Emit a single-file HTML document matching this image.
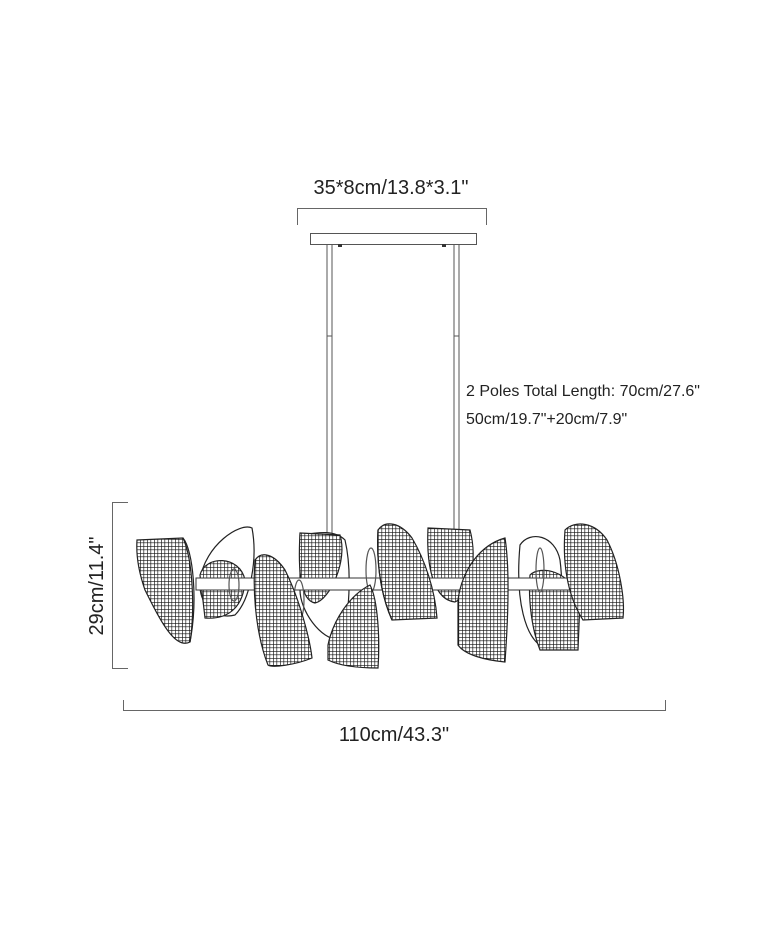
<!DOCTYPE html>
<html><head><meta charset="utf-8"><style>
html,body{margin:0;padding:0;background:#fff;}
svg{display:block;}
text{font-family:"Liberation Sans",sans-serif;fill:#222;}
</style></head><body>
<svg width="760" height="950" viewBox="0 0 760 950" xmlns="http://www.w3.org/2000/svg">
<defs>
<pattern id="g" width="3.5" height="3.5" patternUnits="userSpaceOnUse">
<rect width="3.5" height="3.5" fill="#fff"/>
<path d="M0 0H3.5M0 0V3.5" stroke="#111" stroke-width="1.3"/>
</pattern>
</defs>
<text x="391" y="194" font-size="20" text-anchor="middle">35*8cm/13.8*3.1"</text>
<path d="M297.5 225V208.5H486.5V225" fill="none" stroke="#666" stroke-width="1"/>
<rect x="310.5" y="233.5" width="166" height="11" fill="#fff" stroke="#555"/>
<rect x="338" y="244" width="4" height="3" fill="#333"/>
<rect x="442" y="244" width="4" height="3" fill="#333"/>
<g stroke="#555" stroke-width="1" fill="none">
<path d="M327 245V580M332 245V580M454 245V580M459 245V580"/>
<path d="M327 336H332M454 336H459"/>
</g>
<text x="466" y="396" font-size="16">2 Poles Total Length: 70cm/27.6"</text>
<text x="466" y="424" font-size="16">50cm/19.7"+20cm/7.9"</text>
<path d="M128 502.5H112.5V668.5H128" fill="none" stroke="#666"/>
<text x="0" y="0" font-size="20" text-anchor="middle" transform="translate(103,586) rotate(-90)">29cm/11.4"</text>
<path d="M123.5 700V710.5H665.5V700" fill="none" stroke="#666"/>
<text x="394" y="741" font-size="20" text-anchor="middle">110cm/43.3"</text>
<g stroke="#222" stroke-width="1.2">
<path d="M200 580 C205 545 240 522 252 528 C258 560 250 600 235 615 C215 620 198 605 200 580Z" fill="#fff"/>
<path d="M200 575 C205 555 240 555 245 580 C244 605 230 620 205 618Z" fill="url(#g)"/>
<path d="M300 535 C320 532 335 530 345 540 C352 570 350 620 340 640 C320 640 300 610 300 590Z" fill="#fff"/>
<path d="M300 533 L340 535 C348 560 330 600 315 603 C300 600 298 570 300 533Z" fill="url(#g)"/>
<path d="M428 528 L470 530 C478 560 470 595 455 602 C435 600 426 570 428 528Z" fill="url(#g)"/>
<path d="M520 545 C530 530 555 535 560 560 C565 600 558 640 545 648 C525 640 515 600 520 545Z" fill="#fff"/>
<path d="M530 575 C540 565 570 570 580 600 L578 650 L540 650 C532 630 528 600 530 575Z" fill="url(#g)"/>
<rect x="196" y="578" width="410" height="12" fill="#fff" stroke="#333" stroke-width="1"/>
<ellipse cx="234" cy="585" rx="5" ry="16" fill="none" stroke="#555"/>
<ellipse cx="299" cy="600" rx="5" ry="20" fill="none" stroke="#555"/>
<ellipse cx="371" cy="570" rx="5" ry="22" fill="none" stroke="#555"/>
<ellipse cx="468" cy="590" rx="3" ry="18" fill="none" stroke="#555"/>
<ellipse cx="540" cy="570" rx="4" ry="22" fill="none" stroke="#555"/>
<path d="M137 540 L183 538 C193 560 195 610 190 642 C175 650 160 620 145 590 C138 570 136 555 137 540Z" fill="url(#g)"/>
<path d="M183 538 C193 550 198 600 190 642" fill="none"/>
<path d="M255 560 C262 550 275 555 285 570 C300 600 310 640 312 658 C295 665 272 668 268 665 C258 640 252 600 255 560Z" fill="url(#g)"/>
<path d="M328 645 C333 620 350 595 370 585 C378 600 380 640 378 668 C360 668 340 666 328 660Z" fill="url(#g)"/>
<path d="M378 530 C385 520 400 522 412 538 C425 560 435 590 437 618 L392 620 C383 600 376 570 378 530Z" fill="url(#g)"/>
<path d="M378 530 C376 570 383 600 392 620" fill="none"/>
<path d="M458 600 C462 570 480 545 505 538 C510 570 508 620 505 662 C485 660 465 655 458 645Z" fill="url(#g)"/>
<path d="M565 530 C575 520 595 522 607 540 C620 565 625 600 623 618 L583 620 C570 600 562 570 565 530Z" fill="url(#g)"/>
</g>
</svg>
</body></html>
